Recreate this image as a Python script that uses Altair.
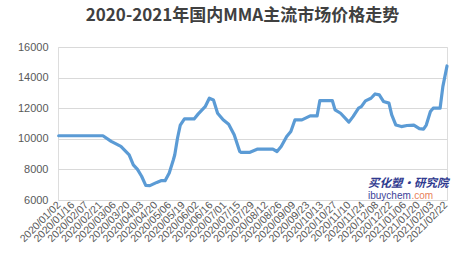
import altair as alt
import pandas as pd

# tick labels (every 10 trading days)
tick_labels = ["2020/01/02", "2020/01/16", "2020/02/07", "2020/02/21", "2020/03/06",
               "2020/03/20", "2020/04/03", "2020/04/20", "2020/05/06", "2020/05/19",
               "2020/06/02", "2020/06/16", "2020/07/01", "2020/07/15", "2020/07/29",
               "2020/08/12", "2020/08/26", "2020/09/09", "2020/09/23", "2020/10/13",
               "2020/10/27", "2020/11/10", "2020/11/24", "2020/12/08", "2020/12/22",
               "2021/01/06", "2021/01/20", "2021/02/03", "2021/02/22"]
tick_pos = [i * 10 for i in range(len(tick_labels))]

# price series (trading-day index, yuan/ton)
day_index = [0, 32, 38, 45, 51, 54, 57, 60, 63, 66, 71, 74, 77, 80, 83, 84, 86, 88,
             91, 98, 101, 106, 109, 112, 115, 119, 123, 127, 131, 132, 138, 144, 155,
             158, 161, 165, 168, 171, 176, 182, 187, 189, 198, 200, 204, 210, 213,
             217, 219, 222, 226, 229, 232, 235, 239, 241, 244, 248, 252, 257, 261,
             264, 266, 269, 271, 276, 278, 281]
price = [10200, 10200, 9830, 9500, 8950, 8300, 8000, 7550, 6960, 6940, 7150, 7260,
         7260, 7770, 8630, 8960, 10050, 10900, 11300, 11300, 11630, 12100, 12650,
         12540, 11670, 11240, 10950, 10260, 9170, 9110, 9110, 9330, 9330, 9170, 9500,
         10150, 10480, 11240, 11240, 11500, 11500, 12500, 12500, 11890, 11670, 11090,
         11450, 12000, 12100, 12480, 12650, 12930, 12870, 12440, 12330, 11560, 10900,
         10800, 10870, 10900, 10670, 10630, 10900, 11780, 12000, 12000, 13410, 14760]

df = pd.DataFrame({"idx": day_index, "price": price})

label_js = "[" + ",".join("'%s'" % s for s in tick_labels) + "]"

x = alt.X("idx:Q",
          scale=alt.Scale(domain=[-0.5, 281], nice=False, zero=False),
          axis=alt.Axis(values=tick_pos, labelExpr=label_js + "[round(datum.value/10)]",
                        labelAngle=-45, labelAlign="right", labelBaseline="middle",
                        labelFontSize=10.5, labelColor="#595959", labelPadding=3,
                        labelFont="Liberation Sans", labelOverlap=False,
                        domain=False, ticks=False, grid=False, title=None))
y = alt.Y("price:Q",
          scale=alt.Scale(domain=[6000, 16000], nice=False, zero=False),
          axis=alt.Axis(values=[6000, 8000, 10000, 12000, 14000, 16000], format="d",
                        labelFontSize=11, labelColor="#595959", labelPadding=10,
                        labelFont="Liberation Sans",
                        domain=False, ticks=False, gridColor="#D9D9D9", gridWidth=1,
                        title=None))

line = alt.Chart(df).mark_line(color="#5B9BD5", strokeWidth=3.2, strokeCap="round",
                               strokeJoin="round").encode(x=x, y=y)

wm1 = alt.Chart(pd.DataFrame({"t": ["买化塑·研究院"]})).mark_text(
    align="left", baseline="middle", fontSize=11.5, fontWeight="bold", fontStyle="italic",
    color="#2F3A8F", font="Noto Sans CJK SC").encode(
    text="t:N", x=alt.value(310), y=alt.value(137))
wm2 = alt.Chart(pd.DataFrame({"t": ["ibuychem"]})).mark_text(
    align="left", baseline="middle", fontSize=10, color="#3B3F99",
    font="Liberation Sans").encode(text="t:N", x=alt.value(310), y=alt.value(149))
wm3 = alt.Chart(pd.DataFrame({"t": [".com"]})).mark_text(
    align="left", baseline="middle", fontSize=10, color="#E8805A",
    font="Liberation Sans").encode(text="t:N", x=alt.value(353.5), y=alt.value(149))

chart = alt.layer(line, wm1, wm2, wm3).properties(
    width=389, height=153,
    autosize=alt.AutoSizeParams(type="none"),
    padding={"left": 58, "top": 47, "right": 5, "bottom": 69},
    title=alt.TitleParams("2020-2021年国内MMA主流市场价格走势", fontSize=17,
                          fontWeight="bold", color="#404040", font="Noto Sans CJK SC",
                          anchor="middle", dx=-10, offset=16),
).configure_view(stroke=None).configure(background="white")

chart.save("out.html", embed_options={"renderer": "svg", "actions": False})
